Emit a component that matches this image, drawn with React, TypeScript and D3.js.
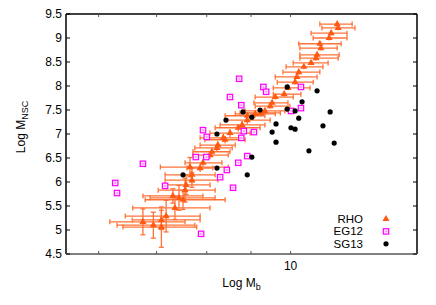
import * as d3 from 'd3'

// RHO: log Mb, log M_NSC, lower/upper Mb error-bar ends, NSC error
const rhoMb = [11.32, 11.35, 11.14, 11.08, 10.81, 10.84, 10.73, 10.70, 10.56, 10.36, 10.22, 10.17, 10.12, 9.93, 9.83, 9.60, 9.52, 9.47, 9.34, 9.24, 9.10, 8.91, 8.91, 8.79, 8.70, 8.51, 8.40, 8.36, 8.24, 8.22, 8.11, 8.07, 7.92, 7.86, 7.69, 7.69, 7.57, 7.55, 7.65, 7.51, 7.43, 7.31, 7.35, 7.18, 7.09, 7.09, 6.94, 6.75]
const rhoNsc = [9.29, 9.21, 9.10, 9.00, 8.88, 8.79, 8.65, 8.58, 8.48, 8.40, 8.29, 8.19, 8.08, 7.96, 7.83, 7.77, 7.65, 7.58, 7.48, 7.44, 7.42, 7.38, 7.29, 7.19, 7.13, 7.02, 6.88, 6.92, 6.77, 6.71, 6.63, 6.56, 6.40, 6.29, 6.15, 6.04, 5.94, 5.83, 6.31, 5.63, 5.67, 5.71, 5.46, 5.29, 5.21, 5.06, 5.10, 5.17]
const rhoMbLo = [10.81, 10.87, 10.56, 10.62, 10.22, 10.25, 10.25, 10.25, 10.07, 9.88, 9.80, 9.60, 9.65, 9.55, 9.55, 9.10, 9.07, 9.10, 8.86, 8.74, 8.63, 8.40, 8.40, 8.29, 8.18, 8.07, 7.96, 7.86, 7.86, 7.75, 7.71, 7.71, 7.55, 7.59, 7.16, 7.16, 7.16, 7.03, 7.07, 6.79, 6.88, 6.75, 6.57, 6.44, 6.56, 6.40, 6.30, 6.18]
const rhoMbHi = [11.78, 11.87, 11.62, 11.62, 11.44, 11.32, 11.38, 11.35, 11.05, 10.90, 10.81, 10.73, 10.62, 10.53, 10.28, 10.07, 9.93, 9.98, 9.85, 9.73, 9.60, 9.34, 9.47, 9.34, 9.22, 8.98, 8.86, 8.74, 8.63, 8.56, 8.51, 8.47, 8.33, 8.13, 8.18, 8.24, 8.07, 8.18, 8.47, 8.40, 8.18, 7.92, 8.07, 7.86, 7.86, 7.79, 7.75, 7.55]
const rhoNscErr = [0.05, 0.05, 0.05, 0.05, 0.05, 0.05, 0.05, 0.05, 0.05, 0.05, 0.05, 0.05, 0.05, 0.05, 0.05, 0.05, 0.05, 0.05, 0.05, 0.08, 0.08, 0.08, 0.08, 0.08, 0.08, 0.08, 0.08, 0.08, 0.08, 0.08, 0.08, 0.08, 0.08, 0.08, 0.15, 0.15, 0.2, 0.25, 0.2, 0.2, 0.26, 0.15, 0.24, 0.33, 0.2, 0.42, 0.27, 0.27]

// EG12
const egMb = [6.27, 6.30, 6.75, 7.88, 7.16, 8.51, 8.72, 8.77, 7.92, 8.00, 8.83, 9.07, 8.77, 7.77, 7.99, 8.91, 8.70, 8.44, 8.29, 8.58, 9.30, 9.37, 10.01, 10.28, 10.28]
const egNsc = [5.98, 5.77, 6.38, 4.92, 5.92, 7.77, 8.15, 7.60, 7.08, 6.94, 7.06, 7.04, 6.92, 6.52, 6.52, 6.54, 6.40, 6.25, 6.10, 5.88, 7.98, 7.88, 7.48, 7.98, 7.54]

// SG13
const sgMb = [7.51, 8.22, 8.22, 8.42, 8.81, 9.02, 9.22, 8.91, 9.02, 9.52, 9.62, 9.62, 9.91, 9.91, 10.01, 10.12, 10.12, 10.22, 10.31, 10.73, 10.90, 11.11, 11.23, 10.50]
const sgNsc = [6.15, 7.00, 6.29, 7.29, 7.46, 7.35, 7.50, 6.15, 6.52, 7.04, 7.21, 6.83, 7.98, 7.52, 7.13, 7.48, 7.10, 7.33, 7.67, 7.90, 7.17, 7.46, 6.81, 6.65]

const yTicks = [4.5, 5, 5.5, 6, 6.5, 7, 7.5, 8, 8.5, 9, 9.5]
const xTicks = [6, 7, 8, 9, 10]
const xLabelled = [10]
const legendNames = ['RHO', 'EG12', 'SG13']

const W = 436
const H = 305
const margin = { top: 14, right: 19, bottom: 51, left: 66 }
const FONT = '"Liberation Sans", Arial, Helvetica, sans-serif'
const ORANGE = '#ff5a14'
const MAGENTA = '#ff00ff'

export default function App() {
  const x = d3.scaleLog().domain([5.5, 14]).range([margin.left, W - margin.right])
  const y = d3.scaleLinear().domain([4.5, 9.5]).range([H - margin.bottom, margin.top])
  const [x0, x1] = x.range()
  const [yb, yt] = y.range()

  const tri = d3.symbol().type(d3.symbolTriangle).size(22)
  const cap = 2.5

  const marker = (name: string, cx: number, cy: number) => {
    if (name === 'RHO') return <path d={tri() as string} transform={`translate(${cx},${cy})`} fill={ORANGE} />
    if (name === 'EG12') return (
      <g>
        <rect x={cx - 2.7} y={cy - 2.7} width={5.4} height={5.4} fill="#ffe0ff" stroke={MAGENTA} strokeWidth={1.2} />
        <rect x={cx - 0.8} y={cy - 0.8} width={1.6} height={1.6} fill="#ff88ff" />
      </g>
    )
    return <circle cx={cx} cy={cy} r={2.6} fill="#000" />
  }

  return (
    <svg width={W} height={H} style={{ position: 'absolute', left: 0, top: 0, background: '#fff' }} fontFamily={FONT}>
      {/* RHO error bars */}
      <g stroke={ORANGE} strokeWidth={1.3} fill="none" opacity={0.85}>
        {rhoMb.map((m, i) => {
          const cy = y(rhoNsc[i])
          const lo = x(rhoMbLo[i])
          const hi = x(rhoMbHi[i])
          const cx = x(m)
          const e = rhoNscErr[i]
          return (
            <g key={i}>
              <line x1={lo} x2={hi} y1={cy} y2={cy} />
              <line x1={lo} x2={lo} y1={cy - cap} y2={cy + cap} />
              <line x1={hi} x2={hi} y1={cy - cap} y2={cy + cap} />
              <line x1={cx} x2={cx} y1={y(rhoNsc[i] + e)} y2={y(rhoNsc[i] - e)} />
              {e > 0.1 && <line x1={cx - cap} x2={cx + cap} y1={y(rhoNsc[i] + e)} y2={y(rhoNsc[i] + e)} />}
              {e > 0.1 && <line x1={cx - cap} x2={cx + cap} y1={y(rhoNsc[i] - e)} y2={y(rhoNsc[i] - e)} />}
            </g>
          )
        })}
      </g>
      {rhoMb.map((m, i) => <g key={'r' + i}>{marker('RHO', x(m), y(rhoNsc[i]))}</g>)}
      {egMb.map((m, i) => <g key={'e' + i}>{marker('EG12', x(m), y(egNsc[i]))}</g>)}
      {sgMb.map((m, i) => <g key={'s' + i}>{marker('SG13', x(m), y(sgNsc[i]))}</g>)}

      {/* frame */}
      <line x1={x0} x2={x1} y1={yt} y2={yt} stroke="#000" strokeWidth={1.5} />
      <line x1={x0} x2={x0} y1={yt} y2={yb} stroke="#000" strokeWidth={1.5} />
      <line x1={x1} x2={x1} y1={yt} y2={yb} stroke="#000" strokeWidth={1.5} />
      <line x1={x0} x2={x1} y1={yb} y2={yb} stroke="#808080" strokeWidth={2} />

      {yTicks.map(t => (
        <g key={'y' + t}>
          <line x1={x0} x2={x0 + 4} y1={y(t)} y2={y(t)} stroke="#000" />
          <line x1={x1 - 4} x2={x1} y1={y(t)} y2={y(t)} stroke="#000" />
          <text x={x0 - 4} y={y(t)} dy="0.35em" textAnchor="end" fontSize={12} fill="#000">{t}</text>
        </g>
      ))}
      {xTicks.map(t => (
        <g key={'x' + t}>
          <line x1={x(t)} x2={x(t)} y1={yb} y2={yb - 3} stroke="#555" />
          <line x1={x(t)} x2={x(t)} y1={yt} y2={yt + 3} stroke="#555" />
        </g>
      ))}
      {xLabelled.map(t => (
        <text key={'xl' + t} x={x(t)} y={yb + 16} textAnchor="middle" fontSize={12} fill="#000">{t}</text>
      ))}

      <text x={(x0 + x1) / 2} y={287} textAnchor="middle" fontSize={12} fill="#000">
        Log M<tspan fontSize={9} dy={3}>b</tspan>
      </text>
      <text transform={`translate(25,127) rotate(-90)`} textAnchor="middle" fontSize={12} fill="#000">
        Log M<tspan fontSize={9} dy={3}>NSC</tspan>
      </text>

      {legendNames.map((n, i) => (
        <g key={n}>
          <text x={363} y={223 + i * 12.4} textAnchor="end" fontSize={11.5} fill="#000">{n}</text>
          {marker(n, 386, 219 + i * 12.4)}
        </g>
      ))}
    </svg>
  )
}
